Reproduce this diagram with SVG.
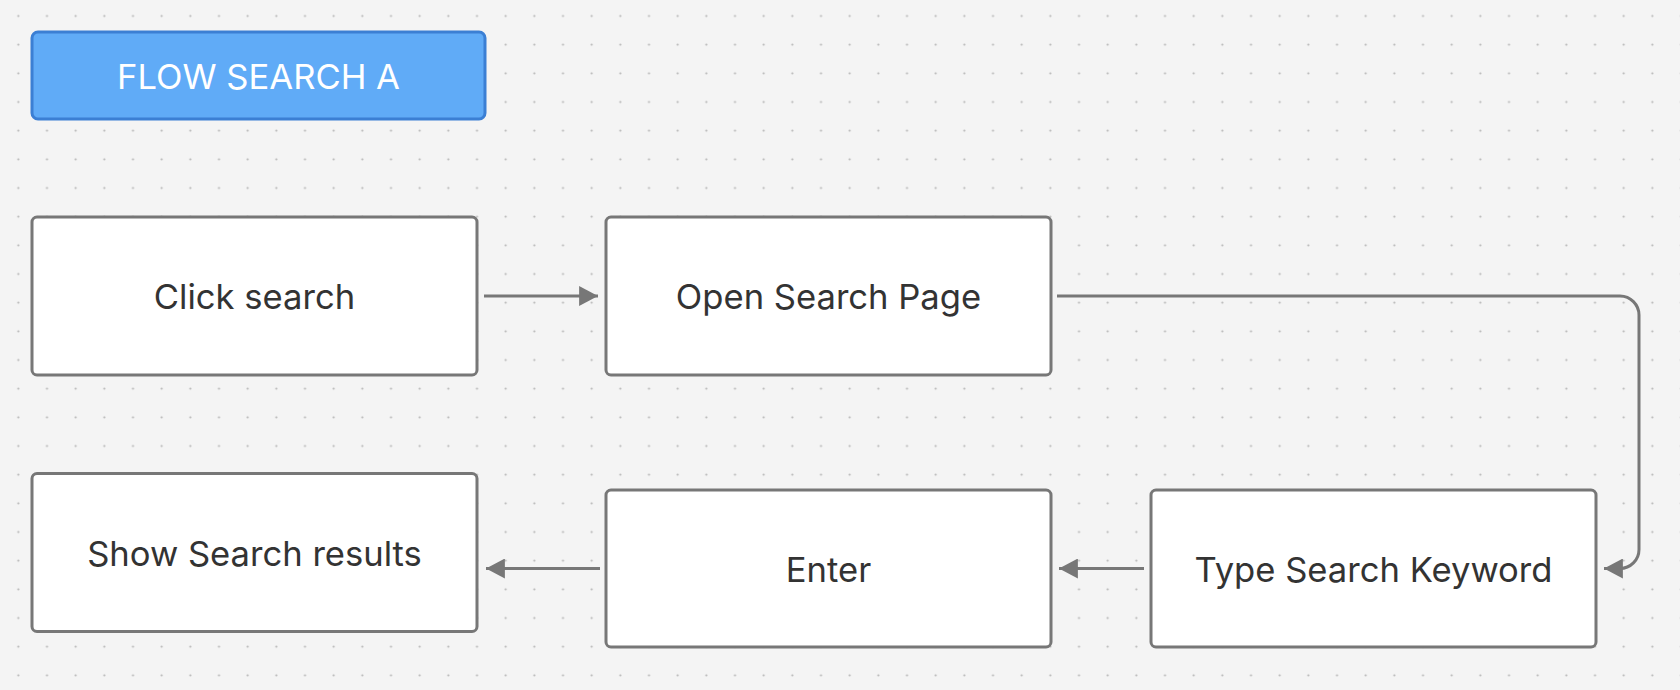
<svg xmlns="http://www.w3.org/2000/svg" width="1680" height="690" viewBox="0 0 1680 690">
<style>
.node rect{fill:#ffffff;stroke:#777777;stroke-width:3}
.lbl{font-family:Inter,"Liberation Sans",sans-serif;font-size:34.6px;fill:#333333;text-anchor:middle;dominant-baseline:central}
.hdr rect{fill:#60abf7;stroke:#3b7fd4;stroke-width:3}
.edge{fill:none;stroke:#777777;stroke-width:3}
</style>
<defs>
<pattern id="dots" patternUnits="userSpaceOnUse" x="4" y="1.667" width="28.667" height="28.667">
<circle cx="14.333" cy="14.333" r="1.1" fill="#b5b5b5"/>
</pattern>
<marker id="arr" markerUnits="userSpaceOnUse" markerWidth="20" markerHeight="20" viewBox="0 0 18 18" refX="17" refY="9" orient="auto">
<path d="M0,0 L17,9 L0,18 Z" fill="#777777"/>
</marker>
</defs>
<rect width="1680" height="690" fill="#f4f4f4"/>
<rect width="1680" height="690" fill="url(#dots)"/>
<g id="header" class="hdr">
<rect x="32" y="32" width="453" height="87" rx="6"/>
<text class="lbl" x="258.5" y="76" style="fill:#ffffff">FLOW SEARCH A</text>
</g>
<g id="connectors">
<path class="edge" d="M484,296 H598" marker-end="url(#arr)"/>
<path class="edge" d="M1057,296 H1620 A19,19 0 0 1 1639,315 V549.5 A19,19 0 0 1 1620,568.5 H1604" marker-end="url(#arr)"/>
<path class="edge" d="M1144,568.5 H1059" marker-end="url(#arr)"/>
<path class="edge" d="M600,568.5 H486" marker-end="url(#arr)"/>
</g>
<g id="click-search" class="node">
<rect x="32" y="217" width="445" height="158" rx="5"/>
<text class="lbl" x="254.5" y="296">Click search</text>
</g>
<g id="open-search-page" class="node">
<rect x="606" y="217" width="445" height="158" rx="5"/>
<text class="lbl" x="828.5" y="296">Open Search Page</text>
</g>
<g id="show-search-results" class="node">
<rect x="32" y="473.5" width="445" height="158" rx="5"/>
<text class="lbl" x="254.5" y="552.5">Show Search results</text>
</g>
<g id="enter" class="node">
<rect x="606" y="490" width="445" height="157" rx="5"/>
<text class="lbl" x="828.5" y="568.5">Enter</text>
</g>
<g id="type-search-keyword" class="node">
<rect x="1151" y="490" width="445" height="157" rx="5"/>
<text class="lbl" x="1373.5" y="568.5">Type Search Keyword</text>
</g>
</svg>
